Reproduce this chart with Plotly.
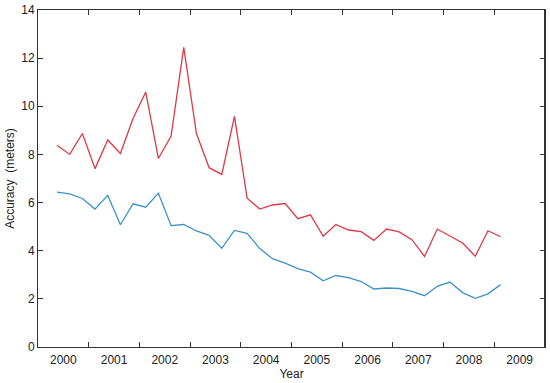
import plotly.graph_objects as go

# quarterly sample positions (fractional year)
x_vals = [2000.375 + 0.25 * i for i in range(36)]

red_values = [8.38, 8.00, 8.87, 7.41, 8.60, 8.04, 9.49, 10.59, 7.83, 8.76,
              12.45, 8.87, 7.45, 7.17, 9.58, 6.18, 5.73, 5.90, 5.96, 5.33,
              5.49, 4.60, 5.09, 4.86, 4.79, 4.43, 4.90, 4.78, 4.46, 3.76,
              4.90, 4.60, 4.32, 3.77, 4.83, 4.58]

blue_values = [6.43, 6.36, 6.17, 5.73, 6.30, 5.08, 5.95, 5.81, 6.39, 5.04,
               5.09, 4.82, 4.64, 4.10, 4.84, 4.72, 4.09, 3.67, 3.48, 3.26,
               3.11, 2.75, 2.97, 2.88, 2.72, 2.41, 2.45, 2.43, 2.31, 2.13,
               2.52, 2.70, 2.26, 2.02, 2.21, 2.59]

year_labels = ["2000", "2001", "2002", "2003", "2004",
               "2005", "2006", "2007", "2008", "2009"]
year_starts = [2000, 2001, 2002, 2003, 2004, 2005, 2006, 2007, 2008, 2009]
y_ticks = [0, 2, 4, 6, 8, 10, 12, 14]

fig = go.Figure()
fig.add_trace(go.Scatter(x=x_vals, y=red_values, mode="lines",
                         line=dict(color="#dc3a46", width=1.3), showlegend=False,
                         hoverinfo="skip"))
# blue series drawn on the overlaid labelled x axis (same range)
fig.add_trace(go.Scatter(x=x_vals, y=blue_values, mode="lines", xaxis="x2",
                         line=dict(color="#3a92c9", width=1.3), showlegend=False,
                         hoverinfo="skip"))

font = dict(family="Liberation Sans, Arial, sans-serif", size=12, color="#222")
x_range = [year_starts[0], year_starts[-1] + 1]

fig.update_layout(
    width=550, height=383,
    margin=dict(l=38, r=5, t=10, b=36),
    paper_bgcolor="white", plot_bgcolor="white",
    font=font,
    xaxis=dict(
        range=x_range,
        automargin=False,
        tickmode="array",
        tickvals=year_starts[1:],
        ticktext=[""] * len(year_starts[1:]),
        ticks="inside", ticklen=5, tickcolor="#333", tickwidth=1,
        showgrid=False, zeroline=False,
        showline=True, linecolor="#333", linewidth=1, mirror="ticks",
    ),
    xaxis2=dict(
        range=x_range,
        overlaying="x", anchor="y", side="bottom",
        automargin=False,
        tickmode="array",
        tickvals=[y + 0.5 for y in year_starts],
        ticktext=year_labels,
        ticks="",
        ticklabelstandoff=4,
        showgrid=False, zeroline=False, showline=False,
        title=dict(text="Year", standoff=0, font=dict(size=12)),
    ),
    yaxis=dict(
        range=[0, 14],
        automargin=False,
        tickmode="array",
        tickvals=y_ticks,
        ticks="inside", ticklen=5, tickcolor="#333",
        showgrid=False, zeroline=False,
        showline=True, linecolor="#333", linewidth=1, mirror="ticks",
        title=dict(text="Accuracy  (meters)", standoff=4, font=dict(size=12)),
    ),
    shapes=[dict(type="line", xref="paper", yref="paper", x0=1, x1=1, y0=0, y1=1,
                 line=dict(color="#333", width=2))],
)

fig.write_html(
    "out.html",
    config={"displayModeBar": False, "staticPlot": True},
    post_script="document.body.style.margin='0';document.body.style.padding='0';"
                "document.body.style.overflow='hidden';",
)
